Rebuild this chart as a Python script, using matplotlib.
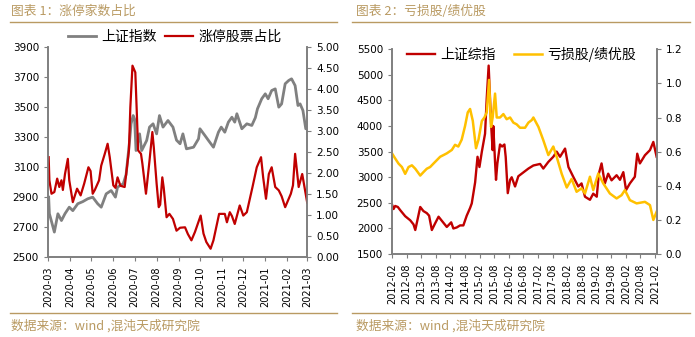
import pandas as pd
import matplotlib
matplotlib.use('Agg')
import matplotlib.pyplot as plt
import matplotlib.dates as mdates
from matplotlib.lines import Line2D
from matplotlib.ticker import FormatStrFormatter

plt.rcParams['font.family'] = ['Noto Sans CJK SC', 'DejaVu Sans']

# 图表1 上证指数
sh_dates = ['2020-03-02', '2020-03-03', '2020-03-07', '2020-03-10', '2020-03-15', '2020-03-20',
            '2020-03-25', '2020-03-31', '2020-04-05', '2020-04-12', '2020-04-19', '2020-04-26',
            '2020-05-03', '2020-05-10', '2020-05-15', '2020-05-22', '2020-05-29', '2020-06-04',
            '2020-06-07', '2020-06-15', '2020-06-19', '2020-06-24', '2020-06-26', '2020-06-29',
            '2020-07-01', '2020-07-03', '2020-07-08', '2020-07-11', '2020-07-18', '2020-07-22',
            '2020-07-27', '2020-08-01', '2020-08-05', '2020-08-10', '2020-08-17', '2020-08-24',
            '2020-08-29', '2020-09-03', '2020-09-07', '2020-09-12', '2020-09-22', '2020-09-29',
            '2020-10-01', '2020-10-08', '2020-10-13', '2020-10-20', '2020-10-27', '2020-10-31',
            '2020-11-05', '2020-11-10', '2020-11-15', '2020-11-19', '2020-11-22', '2020-11-29',
            '2020-12-06', '2020-12-13', '2020-12-18', '2020-12-21', '2020-12-27', '2021-01-01',
            '2021-01-05', '2021-01-10', '2021-01-15', '2021-01-20', '2021-01-24', '2021-01-29',
            '2021-02-03', '2021-02-07', '2021-02-12', '2021-02-16', '2021-02-19', '2021-02-23',
            '2021-02-27', '2021-03-01']
sh_index = [2900, 2790, 2720, 2667, 2789, 2744, 2790, 2833, 2810, 2856, 2870, 2889,
            2900, 2856, 2833, 2922, 2944, 2900, 2967, 2989, 3050, 3278, 3389, 3444,
            3420, 3211, 3322, 3211, 3278, 3367, 3389, 3322, 3444, 3367, 3411, 3367,
            3280, 3256, 3322, 3222, 3233, 3289, 3356, 3311, 3278, 3233, 3333, 3367,
            3333, 3400, 3433, 3400, 3456, 3356, 3389, 3378, 3430, 3489, 3556, 3589,
            3556, 3611, 3622, 3500, 3522, 3656, 3678, 3689, 3644, 3511, 3522, 3478,
            3356, 3360]

# 涨停股票占比
zt_dates = ['2020-03-02', '2020-03-03', '2020-03-06', '2020-03-10', '2020-03-14', '2020-03-17',
            '2020-03-20', '2020-03-22', '2020-03-25', '2020-03-29', '2020-03-31', '2020-04-05',
            '2020-04-11', '2020-04-16', '2020-04-21', '2020-04-27', '2020-04-30', '2020-05-03',
            '2020-05-06', '2020-05-12', '2020-05-15', '2020-05-20', '2020-05-24', '2020-05-27',
            '2020-06-01', '2020-06-04', '2020-06-07', '2020-06-11', '2020-06-17', '2020-06-23',
            '2020-06-25', '2020-06-28', '2020-07-02', '2020-07-04', '2020-07-06', '2020-07-10',
            '2020-07-12', '2020-07-17', '2020-07-22', '2020-07-26', '2020-07-28', '2020-08-01',
            '2020-08-04', '2020-08-06', '2020-08-09', '2020-08-11', '2020-08-15', '2020-08-19',
            '2020-08-24', '2020-08-29', '2020-09-03', '2020-09-10', '2020-09-14', '2020-09-19',
            '2020-09-24', '2020-10-02', '2020-10-06', '2020-10-10', '2020-10-16', '2020-10-20',
            '2020-10-28', '2020-11-05', '2020-11-08', '2020-11-12', '2020-11-15', '2020-11-19',
            '2020-11-26', '2020-12-01', '2020-12-06', '2020-12-14', '2020-12-20', '2020-12-26',
            '2020-12-29', '2021-01-02', '2021-01-06', '2021-01-10', '2021-01-15', '2021-01-20',
            '2021-01-24', '2021-01-29', '2021-02-06', '2021-02-09', '2021-02-12', '2021-02-17',
            '2021-02-22', '2021-02-26', '2021-03-01']
zt_ratio = [2.38, 1.83, 1.51, 1.55, 1.87, 1.67, 1.83, 1.60, 1.98, 2.34, 1.83, 1.31,
            1.63, 1.47, 1.75, 2.14, 2.05, 1.51, 1.60, 1.83, 2.18, 2.46, 2.70, 2.38,
            1.71, 1.65, 1.90, 1.70, 1.67, 2.54, 3.57, 4.56, 4.40, 3.49, 2.54, 2.46,
            2.22, 1.51, 2.30, 2.98, 2.62, 1.75, 1.19, 1.25, 1.90, 1.65, 0.95, 1.03,
            0.91, 0.63, 0.70, 0.71, 0.55, 0.40, 0.60, 0.99, 0.56, 0.36, 0.20, 0.40,
            1.03, 1.03, 0.83, 1.07, 0.98, 0.79, 1.23, 0.99, 1.07, 1.67, 2.14, 2.38,
            1.90, 1.39, 1.98, 2.14, 1.67, 1.59, 1.45, 1.19, 1.51, 1.71, 2.46, 1.67,
            1.98, 1.59, 1.30]

# 图表2 上证综指
sz_dates = ['2012-02-01', '2012-02-21', '2012-03-12', '2012-04-14', '2012-05-13', '2012-07-15',
            '2012-09-16', '2012-10-27', '2012-11-18', '2012-12-20', '2013-01-19', '2013-02-28',
            '2013-04-11', '2013-05-10', '2013-06-13', '2013-07-24', '2013-09-05', '2013-10-16',
            '2013-12-17', '2014-02-10', '2014-03-09', '2014-04-20', '2014-06-01', '2014-07-12',
            '2014-08-23', '2014-10-04', '2014-10-25', '2014-12-06', '2015-01-05', '2015-01-29',
            '2015-02-28', '2015-04-09', '2015-04-30', '2015-05-24', '2015-06-06', '2015-06-23',
            '2015-07-13', '2015-07-21', '2015-08-12', '2015-08-24', '2015-09-10', '2015-10-13',
            '2015-11-08', '2015-12-07', '2015-12-23', '2016-01-18', '2016-02-16', '2016-03-07',
            '2016-04-18', '2016-05-29', '2016-07-10', '2016-08-21', '2016-10-02', '2016-12-03',
            '2017-02-25', '2017-04-06', '2017-06-08', '2017-08-09', '2017-09-20', '2017-11-01',
            '2018-01-03', '2018-02-14', '2018-04-15', '2018-06-17', '2018-07-28', '2018-09-09',
            '2018-11-10', '2018-12-21', '2019-02-03', '2019-03-01', '2019-04-04', '2019-05-15',
            '2019-06-26', '2019-08-07', '2019-10-09', '2019-11-20', '2020-01-01', '2020-02-04',
            '2020-03-23', '2020-05-24', '2020-06-23', '2020-07-26', '2020-09-27', '2020-11-29',
            '2021-01-10', '2021-02-20']
sz_index = [2470, 2380, 2440, 2420, 2360, 2240, 2160, 2080, 1970, 2200, 2420, 2340,
            2300, 2250, 1970, 2100, 2230, 2150, 2030, 2120, 2000, 2020, 2060, 2060,
            2250, 2400, 2490, 2900, 3400, 3200, 3500, 3850, 4540, 5180, 4700, 4050,
            3530, 4000, 3300, 2950, 3270, 3640, 3600, 3640, 3400, 2690, 2950, 3000,
            2820, 3020, 3070, 3120, 3170, 3230, 3260, 3170, 3300, 3400, 3500, 3400,
            3560, 3200, 3010, 2820, 2880, 2620, 2560, 2680, 2620, 3070, 3270, 2880,
            3070, 2940, 3040, 2950, 3100, 2750, 2880, 3010, 3460, 3270, 3430, 3530,
            3690, 3400]

# 亏损股/绩优股
ks_dates = ['2012-02-01', '2012-03-12', '2012-04-23', '2012-06-04', '2012-07-15', '2012-08-26',
            '2012-10-07', '2012-11-18', '2013-01-19', '2013-02-28', '2013-04-11', '2013-05-23',
            '2013-07-03', '2013-08-14', '2013-09-25', '2013-11-06', '2013-12-17', '2014-02-18',
            '2014-03-30', '2014-05-10', '2014-06-21', '2014-08-02', '2014-09-05', '2014-10-04',
            '2014-11-07', '2014-12-17', '2015-01-17', '2015-02-28', '2015-04-01', '2015-04-30',
            '2015-05-29', '2015-06-23', '2015-07-13', '2015-08-12', '2015-09-02', '2015-10-13',
            '2015-11-24', '2016-01-04', '2016-02-16', '2016-03-28', '2016-05-08', '2016-06-19',
            '2016-08-21', '2016-10-02', '2016-11-13', '2016-12-03', '2017-02-04', '2017-04-06',
            '2017-06-08', '2017-08-09', '2017-09-20', '2017-11-22', '2018-01-24', '2018-03-26',
            '2018-05-27', '2018-07-28', '2018-09-09', '2018-11-10', '2018-12-21', '2019-02-22',
            '2019-04-25', '2019-07-17', '2019-10-09', '2019-12-10', '2020-01-21', '2020-03-23',
            '2020-06-15', '2020-09-27', '2020-11-29', '2021-01-10', '2021-02-20']
ks_ratio = [0.59, 0.56, 0.53, 0.51, 0.47, 0.51, 0.52, 0.50, 0.46, 0.48, 0.50, 0.51,
            0.53, 0.55, 0.57, 0.58, 0.59, 0.61, 0.64, 0.63, 0.67, 0.75, 0.83, 0.85,
            0.78, 0.62, 0.67, 0.78, 0.80, 0.83, 1.02, 0.745, 0.80, 0.94, 0.80, 0.80,
            0.82, 0.79, 0.80, 0.77, 0.76, 0.74, 0.74, 0.77, 0.785, 0.80, 0.745, 0.667,
            0.58, 0.63, 0.57, 0.47, 0.39, 0.44, 0.365, 0.385, 0.355, 0.453, 0.375, 0.472,
            0.414, 0.355, 0.326, 0.345, 0.375, 0.316, 0.297, 0.306, 0.287, 0.20, 0.248]

RED = '#C00000'
GRAY = '#808080'
GOLD = '#FFC000'
TAN = '#B99A62'
AX = '#7f7f7f'

fig = plt.figure(figsize=(6.95, 3.37), dpi=100)


def style(ax, ax2):
    for a in (ax, ax2):
        a.spines['top'].set_visible(False)
        for s in ('left', 'right', 'bottom'):
            a.spines[s].set_color(AX)
            a.spines[s].set_linewidth(1.2)
        a.tick_params(colors=AX, labelcolor='black', labelsize=7.5, length=3, direction='out')
        for lab in a.get_yticklabels():
            lab.set_family('DejaVu Sans')
    ax.tick_params(axis='x', labelsize=7, labelrotation=90)
    for lab in ax.get_xticklabels():
        lab.set_family('DejaVu Sans')


# 左图
ax1 = fig.add_axes([0.069, 0.237, 0.373, 0.623])
ax1b = ax1.twinx()
l1, = ax1.plot(pd.to_datetime(sh_dates), sh_index, color=GRAY, lw=2.0, label='上证指数')
l2, = ax1b.plot(pd.to_datetime(zt_dates), zt_ratio, color=RED, lw=1.6, label='涨停股票占比')
ax1.set_ylim(2500, 3900)
ax1.set_yticks(range(2500, 3901, 200))
ax1b.set_ylim(0, 5)
ax1b.set_yticks([i * 0.5 for i in range(11)])
ax1b.yaxis.set_major_formatter(FormatStrFormatter('%.2f'))
ax1.set_xlim(pd.Timestamp('2020-03-01'), pd.Timestamp('2021-03-01'))
ax1.xaxis.set_major_locator(mdates.MonthLocator())
ax1.xaxis.set_major_formatter(mdates.DateFormatter('%Y-%m'))
style(ax1, ax1b)
ax1.legend(handles=[l1, l2], loc='center', bbox_to_anchor=(0.49, 1.05), ncol=2, frameon=False,
           fontsize=10, handlelength=2.0, columnspacing=0.6, handletextpad=0.4)

# 右图
ax2 = fig.add_axes([0.564, 0.246, 0.381, 0.608])
ax2b = ax2.twinx()
r1, = ax2.plot(pd.to_datetime(sz_dates), sz_index, color=RED, lw=1.7, label='上证综指')
r2, = ax2b.plot(pd.to_datetime(ks_dates), ks_ratio, color=GOLD, lw=1.8, label='亏损股/绩优股')
ax2.set_ylim(1500, 5500)
ax2.set_yticks(range(1500, 5501, 500))
ax2b.set_ylim(0, 1.2)
ax2b.set_yticks([i * 0.2 for i in range(7)])
ax2b.yaxis.set_major_formatter(FormatStrFormatter('%.1f'))
ax2.set_xlim(pd.Timestamp('2012-02-01'), pd.Timestamp('2021-02-22'))
ax2.xaxis.set_major_locator(mdates.MonthLocator(bymonth=[2, 8]))
ax2.xaxis.set_major_formatter(mdates.DateFormatter('%Y-%m'))
style(ax2, ax2b)
ax2b.legend(handles=[r1, r2], loc='center', bbox_to_anchor=(0.49, 0.975), ncol=2, frameon=False,
            fontsize=10, handlelength=2.0, columnspacing=1.3, handletextpad=0.4)

# 标题与来源
fig.text(11 / 695, 1 - 11 / 337, '图表 1：涨停家数占比', color=TAN, fontsize=9.2, va='center')
fig.text(356 / 695, 1 - 11 / 337, '图表 2：亏损股/绩优股', color=TAN, fontsize=9.2, va='center')
fig.text(11 / 695, 1 - 326 / 337, '数据来源：wind ,混沌天成研究院', color=TAN, fontsize=9.2, va='center')
fig.text(356 / 695, 1 - 326 / 337, '数据来源：wind ,混沌天成研究院', color=TAN, fontsize=9.2, va='center')
for x0, x1 in ((10, 337), (352, 690)):
    for yy in (22, 313):
        fig.add_artist(Line2D([x0 / 695, x1 / 695], [1 - yy / 337, 1 - yy / 337],
                              color=TAN, lw=1.0, transform=fig.transFigure))

fig.savefig('out.png', dpi=100)
